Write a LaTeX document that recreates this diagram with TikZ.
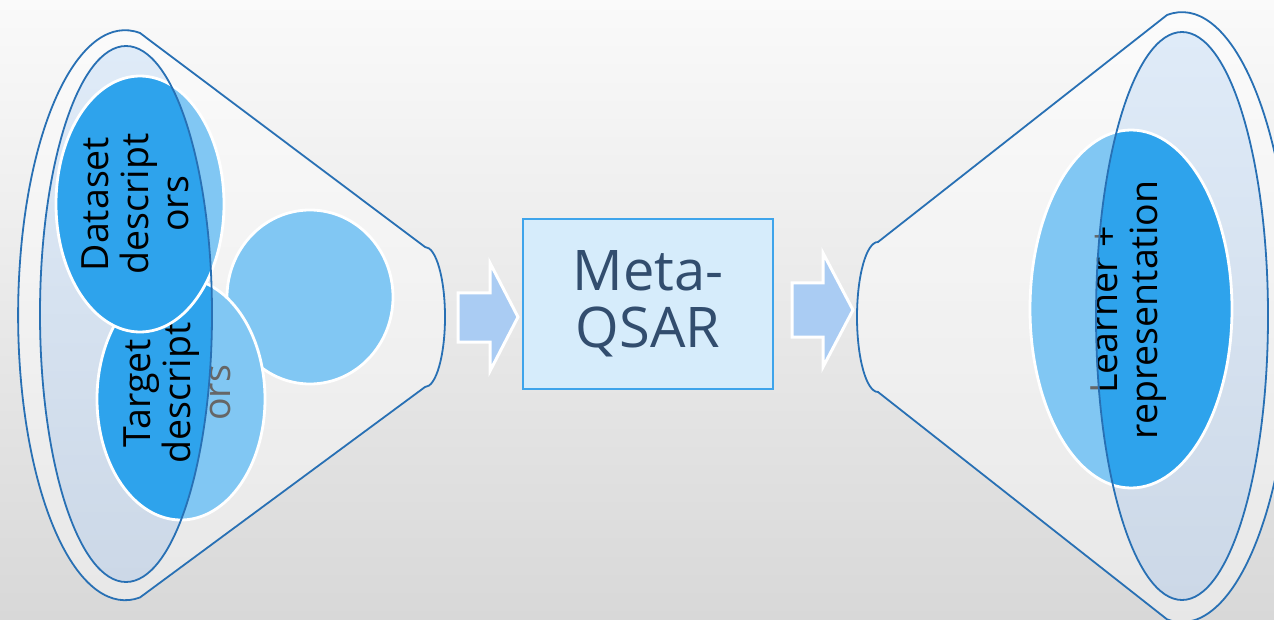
\documentclass[tikz,border=0pt]{standalone}
\usepackage{fontspec}
\setmainfont{Open Sans}
\definecolor{bgtop}{RGB}{250,250,250}
\definecolor{bgbot}{RGB}{216,216,216}
\definecolor{funline}{RGB}{40,112,180}
\definecolor{innertop}{RGB}{223,235,248}
\definecolor{innerbot}{RGB}{204,216,231}
\definecolor{blobblue}{RGB}{46,163,236}
\definecolor{arrowfill}{RGB}{170,204,243}
\definecolor{boxfill}{RGB}{214,236,251}
\definecolor{boxline}{RGB}{62,164,235}
\definecolor{metatext}{RGB}{50,77,110}
\tikzset{
  blob/.style={fill=blobblue, draw=white, line width=2.8pt},
  rimline/.style={draw=funline, line width=1.8pt},
  overlay/.style={fill=white, fill opacity=0.4, even odd rule},
  lbl/.style={rotate=90, align=center, inner sep=0pt, text=black,
    font=\fontsize{37.5}{40}\selectfont},
  blockarrow/.style={fill=arrowfill, draw=white, line width=3pt, line join=miter},
  metabox/.style={draw=boxline, line width=2.2pt, fill=boxfill, minimum width=250pt,
    minimum height=170pt, inner sep=0pt, align=center, text=metatext,
    font=\fontsize{56}{57}\selectfont}
}
\begin{document}
\begin{tikzpicture}[x=1pt, y=-1pt]
\useasboundingbox (0,0) rectangle (1274,620);
\clip (0,0) rectangle (1274,620);
\shade[top color=bgtop, bottom color=bgbot] (0,0) rectangle (1274,620);

% ---------- left funnel ----------
\shade[top color=innertop, bottom color=innerbot] (126,314) ellipse [x radius=86, y radius=268];
\draw[blob] (310,297) ellipse [x radius=83, y radius=87];
\draw[blob] (181,399) ellipse [x radius=84, y radius=121];
\node[lbl] (tgtext) at (177,393) {Target\\descript\\ors};
\draw[blob] (140,204) ellipse [x radius=84, y radius=128];
\node[lbl] (dstext) at (135,204) {Dataset\\descript\\ors};
\fill[overlay] (140,33) arc[start angle=-82, end angle=-278, x radius=107, y radius=285]
  -- (425,387) arc[start angle=90, end angle=-90, x radius=20, y radius=70] -- cycle
  (126,314) ellipse [x radius=86, y radius=268];
\draw[rimline] (140,33) arc[start angle=-82, end angle=-278, x radius=107, y radius=285]
  -- (425,387) arc[start angle=90, end angle=-90, x radius=20, y radius=70] -- cycle;
\draw[rimline] (126,314) ellipse [x radius=86, y radius=268];

% ---------- arrows and box ----------
\draw[blockarrow] (458,293) -- (490,293) -- (490,263) -- (518,317) -- (490,371) -- (490,342) -- (458,342) -- cycle;
\node[metabox] (meta) at (648,304) {Meta-\\QSAR};
\draw[blockarrow] (792,283) -- (823,283) -- (823,253) -- (853,310) -- (823,367) -- (823,337) -- (792,337) -- cycle;

% ---------- right funnel ----------
\shade[top color=innertop, bottom color=innerbot] (1182,316) ellipse [x radius=86, y radius=284];
\draw[blob] (1131,309) ellipse [x radius=101, y radius=179];
\node[lbl] (lrtext) at (1129,310) {Learner +\\representation};
\fill[overlay] (878,242) -- (1167,15) arc[start angle=-97.8, end angle=97.8, x radius=110, y radius=305]
  -- (878,392) arc[start angle=90, end angle=270, x radius=21, y radius=75] -- cycle
  (1182,316) ellipse [x radius=86, y radius=284];
\draw[rimline] (878,242) -- (1167,15) arc[start angle=-97.8, end angle=97.8, x radius=110, y radius=305]
  -- (878,392) arc[start angle=90, end angle=270, x radius=21, y radius=75] -- cycle;
\draw[rimline] (1182,316) ellipse [x radius=86, y radius=284];
\end{tikzpicture}
\end{document}
